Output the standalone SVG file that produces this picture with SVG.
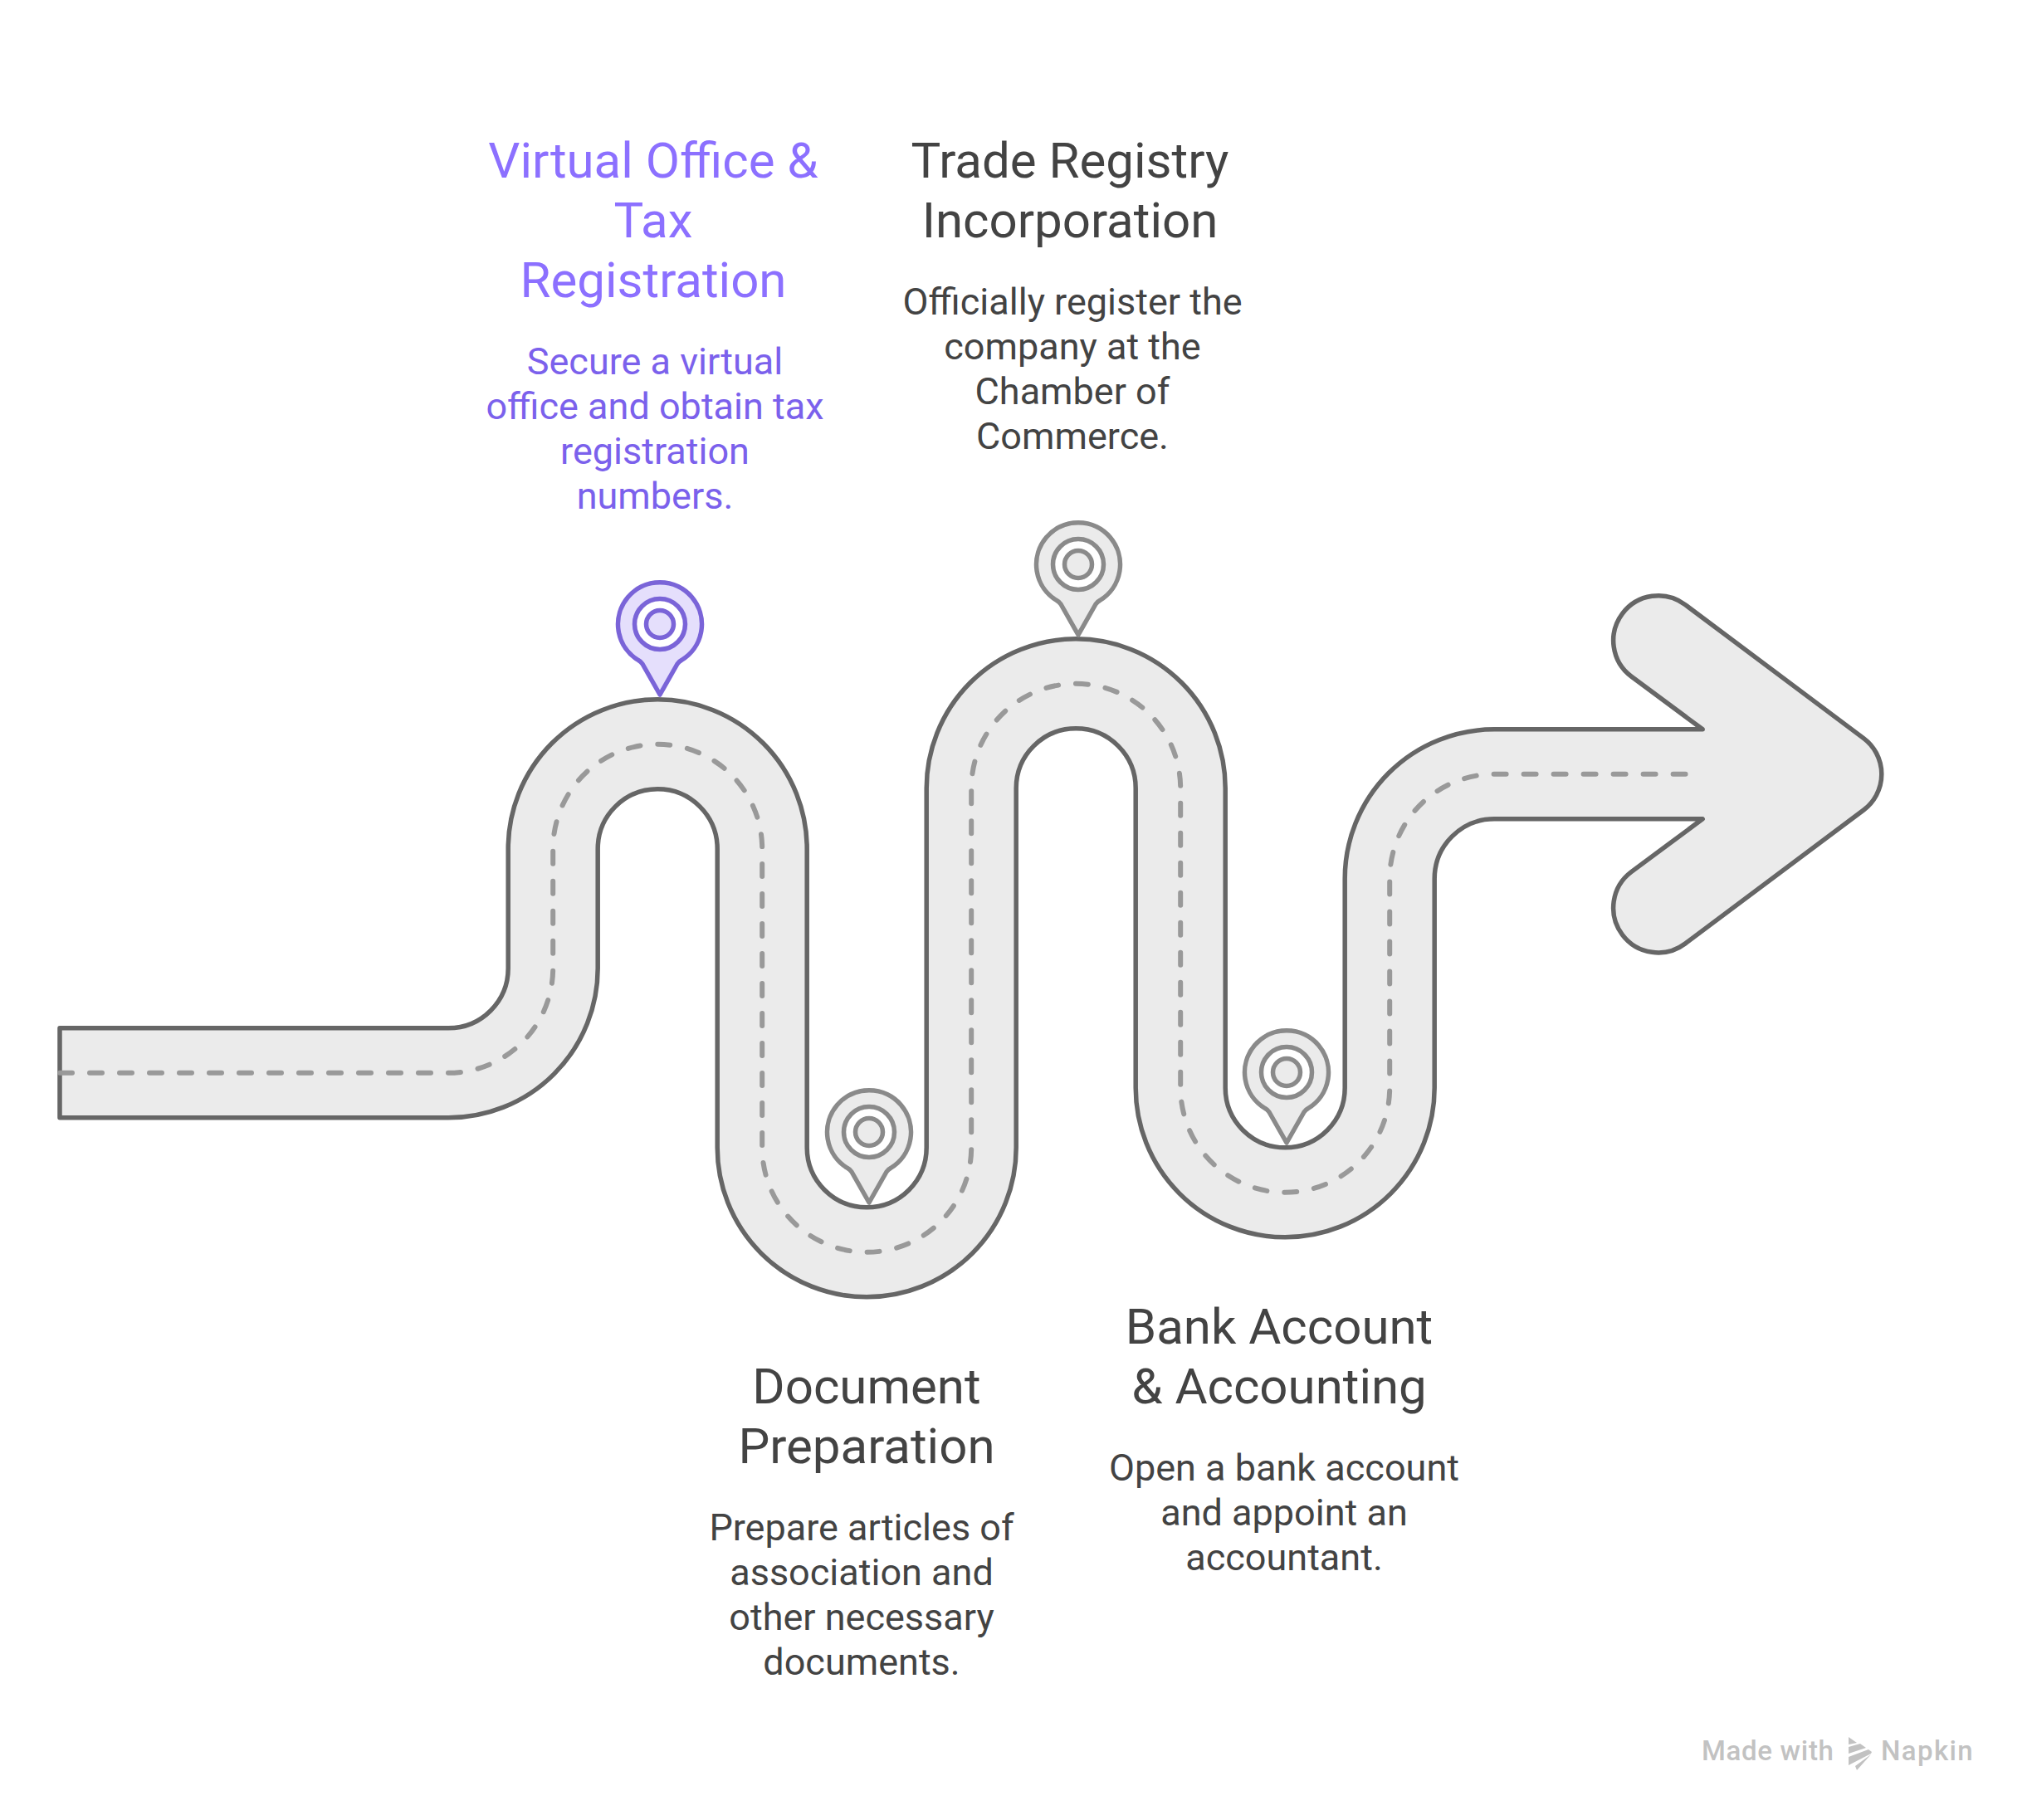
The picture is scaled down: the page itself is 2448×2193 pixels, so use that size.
<svg xmlns="http://www.w3.org/2000/svg" width="2448" height="2193" viewBox="0 0 2448 2193">
<style>
text{font-family:Roboto,"Liberation Sans",sans-serif;text-anchor:middle;fill:#434343}
.t{font-size:60px}
.d{font-size:45px}
.pt{fill:#8C70FF}
.pd{fill:#7B61EC}
.w{font-size:33px;fill:#C2C2C2;font-weight:500;text-anchor:start}
.road{fill:#EBEBEB;stroke:#666;stroke-width:5.5;stroke-linejoin:round}
.dash{fill:none;stroke:#999;stroke-width:6;stroke-dasharray:15 21;stroke-linecap:round}
.pg{stroke:#8A8A8A;stroke-width:5.5;fill:#EBEBEB;stroke-linejoin:round}
.pv{stroke:#7A64D8;stroke-width:5.5;fill:#E5DFFC;stroke-linejoin:round}
.ring{fill:#fff}
</style>
<defs>
<g id="pin">
<path d="M0 85 L-21 48 Q-23 45 -26 43.5 A50.5 50.5 0 1 1 26 43.5 Q23 45 21 48 Z"/>
<circle r="30.5" class="ring"/>
<circle r="16.5"/>
</g>
</defs>
<g id="connectors" transform="translate(-0.8,0.8)">
<path id="road" class="road" d="M72.8 1238 H541 A72 72 0 0 0 613 1166 V1022 A180 180 0 0 1 973 1022 V1382 A72 72 0 0 0 1117 1382 V949 A180 180 0 0 1 1477 949 V1310 A72 72 0 0 0 1621 1310 V1058 A180 180 0 0 1 1801 878 H2052 L1966 814.2 A54 54 0 0 1 2031 727.8 L2246 888.8 A54 54 0 0 1 2246 975.2 L2031 1136.2 A54 54 0 0 1 1966 1049.8 L2052 986 H1801 A72 72 0 0 0 1729 1058 V1310 A180 180 0 0 1 1369 1310 V949 A72 72 0 0 0 1225 949 V1382 A180 180 0 0 1 865 1382 V1022 A72 72 0 0 0 721 1022 V1166 A180 180 0 0 1 541 1346 H72.8 Z"/>
<path id="centerline" class="dash" d="M72.8 1292 H541 A126 126 0 0 0 667 1166 V1022 A126 126 0 0 1 919 1022 V1382 A126 126 0 0 0 1171 1382 V949 A126 126 0 0 1 1423 949 V1310 A126 126 0 0 0 1675 1310 V1058 A126 126 0 0 1 1801 932 H2034"/>
</g>
<g id="node-virtual-office">
<use href="#pin" class="pv" x="795" y="752"/>
<text class="t pt" x="787" y="214">Virtual Office &amp;</text>
<text class="t pt" x="787" y="286">Tax</text>
<text class="t pt" x="787" y="358">Registration</text>
<text class="d pd" x="789" y="451">Secure a virtual</text>
<text class="d pd" x="789" y="505">office and obtain tax</text>
<text class="d pd" x="789" y="559">registration</text>
<text class="d pd" x="789" y="613">numbers.</text>
</g>
<g id="node-document-preparation">
<use href="#pin" class="pg" x="1047" y="1364"/>
<text class="t" x="1044" y="1691">Document</text>
<text class="t" x="1044" y="1763">Preparation</text>
<text class="d" x="1038" y="1856">Prepare articles of</text>
<text class="d" x="1038" y="1910">association and</text>
<text class="d" x="1038" y="1964">other necessary</text>
<text class="d" x="1038" y="2018">documents.</text>
</g>
<g id="node-trade-registry">
<use href="#pin" class="pg" x="1299" y="680"/>
<text class="t" x="1289" y="214">Trade Registry</text>
<text class="t" x="1289" y="286">Incorporation</text>
<text class="d" x="1292" y="379">Officially register the</text>
<text class="d" x="1292" y="433">company at the</text>
<text class="d" x="1292" y="487">Chamber of</text>
<text class="d" x="1292" y="541">Commerce.</text>
</g>
<g id="node-bank-account">
<use href="#pin" class="pg" x="1550" y="1292"/>
<text class="t" x="1541" y="1619">Bank Account</text>
<text class="t" x="1541" y="1691">&amp; Accounting</text>
<text class="d" x="1547" y="1784">Open a bank account</text>
<text class="d" x="1547" y="1838">and appoint an</text>
<text class="d" x="1547" y="1892">accountant.</text>
</g>
<g id="watermark">
<text class="w" x="2050" y="2121" style="letter-spacing:.7px">Made with</text>
<g fill="#C2C2C2">
<polygon points="2227,2093 2237,2100 2227,2102"/>
<polygon points="2227,2105 2241,2101 2248,2106 2227,2113"/>
<polygon points="2227,2117 2251,2108 2255,2111 2254,2113 2227,2127"/>
<polygon points="2235,2128 2254,2114 2237,2133"/>
</g>
<text class="w" x="2266" y="2121" style="letter-spacing:1.4px">Napkin</text>
</g>
</svg>
